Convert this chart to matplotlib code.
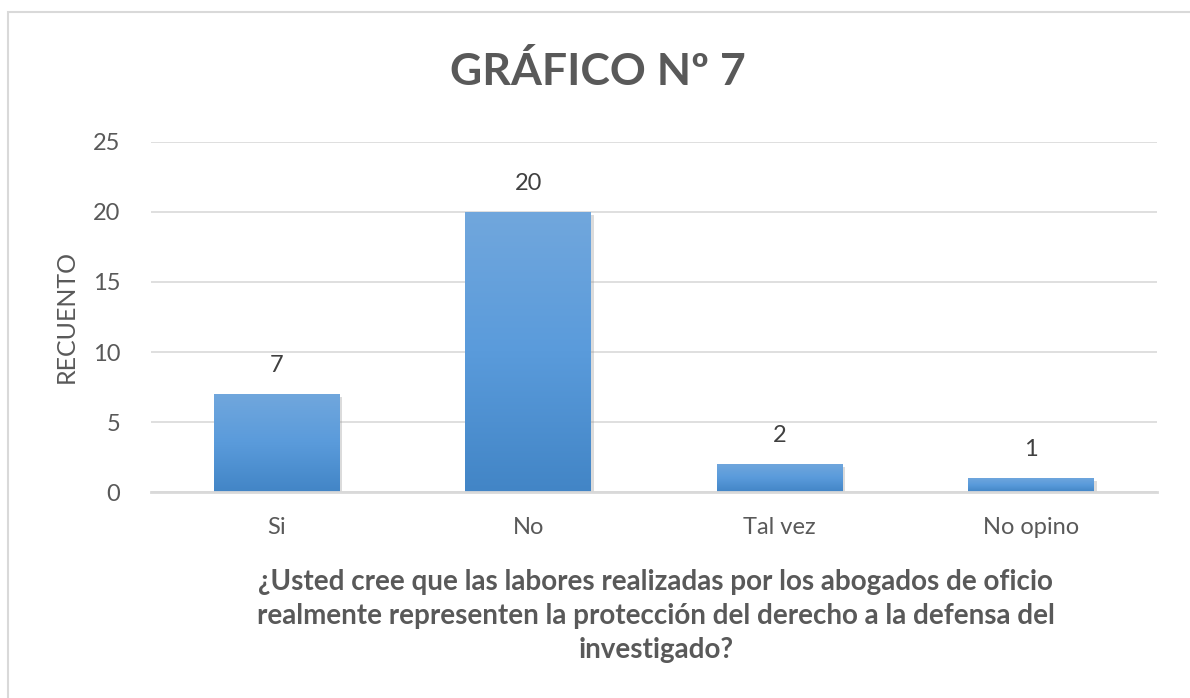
import numpy as np
import matplotlib
matplotlib.use("Agg")
import matplotlib.pyplot as plt
from matplotlib.patches import Rectangle
import matplotlib.patheffects as pe

plt.rcParams['font.family'] = ['Lato', 'DejaVu Sans']

# data
categories = ["Si", "No", "Tal vez", "No opino"]
counts = [7, 20, 2, 1]
yticks = [0, 5, 10, 15, 20, 25]
title = "GRÁFICO Nº 7"
ylabel = "RECUENTO"
xlabel = ("¿Usted cree que las labores realizadas por los abogados de oficio\n"
          "realmente representen la protección del derecho a la defensa del\n"
          "investigado?")

text_col = "#595959"
grid_col = "#D9D9D9"

fig = plt.figure(figsize=(11.9, 6.98), dpi=100)
ax = fig.add_axes([0.1269, 0.2951, 0.9723 - 0.1269, 0.7966 - 0.2951])

# chart border, open at right and bottom like the cropped screenshot
fig.patches.append(Rectangle((8 / 1190, -0.05), 1.1, 1 - 12 / 698 + 0.05,
                             transform=fig.transFigure, fill=False,
                             edgecolor="#D9D9D9", linewidth=1.5))

x = np.arange(len(categories))
bars = ax.bar(x, counts, width=0.5, color="#5B9BD5", zorder=3)

# vertical gradient on each bar (light top, darker bottom) plus soft shadow
grad = np.linspace(0, 1, 256).reshape(-1, 1)
cmap = matplotlib.colors.LinearSegmentedColormap.from_list("g", ["#4285C6", "#5A9BDB", "#71A7DD"])
for b in bars:
    b.set_path_effects([pe.SimplePatchShadow(offset=(2, -2), shadow_rgbFace="#999999", alpha=0.35), pe.Normal()])
    x0, y0 = b.get_x(), b.get_y()
    w, h = b.get_width(), b.get_height()
    im = ax.imshow(grad, extent=(x0, x0 + w, y0, y0 + h), origin="lower",
                   cmap=cmap, aspect="auto", zorder=4)
    im.set_clip_path(b)

for xi, v in zip(x, counts):
    ax.annotate(str(v), (xi, v), xytext=(0, 13), textcoords="offset points",
                ha="center", va="bottom", fontsize=17, color="#404040", zorder=5)

ax.set_xlim(-0.5, len(categories) - 0.5)
ax.set_ylim(0, 25)
ax.set_yticks(yticks)
ax.set_xticks(x)
ax.set_xticklabels(categories)
ax.tick_params(axis="both", length=0, labelsize=17, labelcolor=text_col)
ax.tick_params(axis="x", pad=18)
ax.tick_params(axis="y", pad=22)
ax.yaxis.grid(True, color=grid_col, linewidth=1.2, zorder=0)
ax.set_axisbelow(True)
for s in ["top", "right", "left"]:
    ax.spines[s].set_visible(False)
ax.spines["bottom"].set_color(grid_col)
ax.spines["bottom"].set_linewidth(2)
ax.spines["bottom"].set_zorder(6)

ax.set_ylabel(ylabel, fontsize=18, color=text_col)
ax.yaxis.set_label_coords(-0.073, 0.5)

fig.text(0.502, 0.897, title, ha="center", va="center", fontsize=32,
         fontweight="bold", color=text_col)
fig.text(0.551, 0.118, xlabel, ha="center", va="center", fontsize=20,
         fontweight="bold", color=text_col, linespacing=1.38)

fig.savefig("out.png", dpi=100, facecolor="white")
